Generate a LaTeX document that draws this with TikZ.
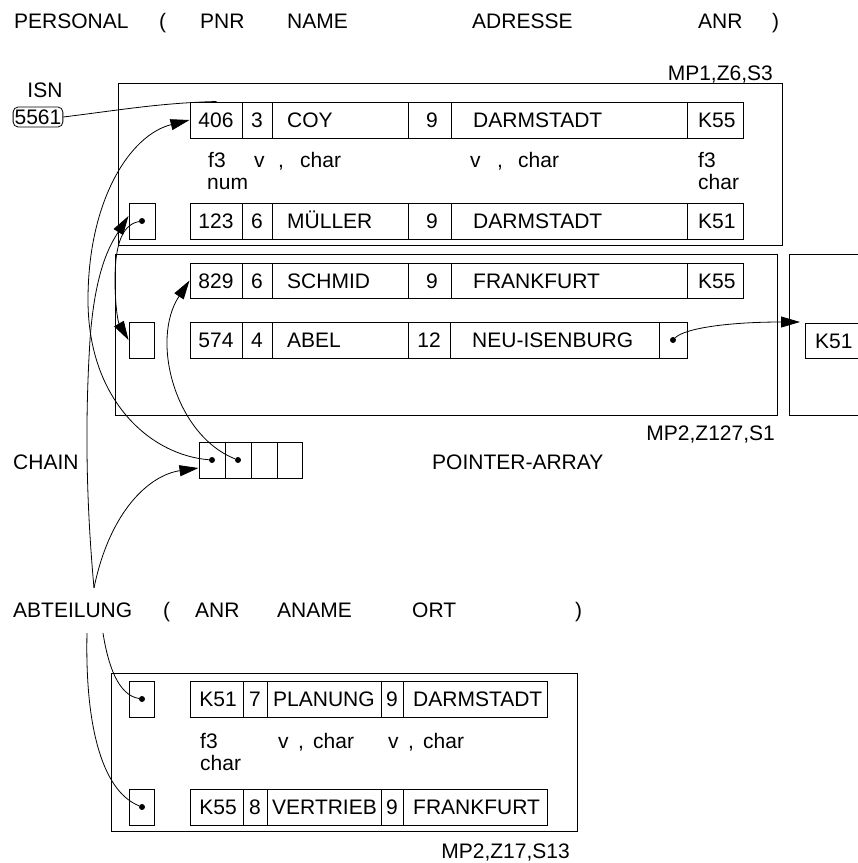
\documentclass[tikz,border=0pt]{standalone}
\usepackage{fontspec}
\setmainfont{Liberation Sans}
\usetikzlibrary{arrows.meta}
\begin{document}
\begin{tikzpicture}[x=1pt,y=-1pt,
  every node/.style={font=\fontsize{21}{25}\selectfont, inner sep=0pt},
  lbl/.style={anchor=base west},
  lblc/.style={anchor=base},
  lble/.style={anchor=base east},
  frame/.style={draw, line width=1pt},
  cellbox/.style={draw, line width=1pt, inner sep=0pt},
  conn/.style={line width=0.8pt},
  arr/.style={line width=0.8pt, -{Triangle[length=19pt,width=11pt]}},
  dotc/.style={circle, fill, minimum size=6pt, inner sep=0pt}
]
\useasboundingbox (0,0) rectangle (858,863);

% ---------- header PERSONAL ----------
\node[lbl] (hPers) at (14,28.5) {PERSONAL};
\node[lbl] (hPo)   at (159,28.5) {(};
\node[lbl] (hPnr)  at (200,28.5) {PNR};
\node[lbl] (hName) at (287,28.5) {NAME};
\node[lbl] (hAdr)  at (472,28.5) {ADRESSE};
\node[lbl] (hAnr)  at (698,28.5) {ANR};
\node[lbl] (hPc)   at (772,28.5) {)};

% ---------- block MP1 ----------
\node[lble] (mp1) at (773,80.5) {MP1,Z6,S3};
\node[lblc] (isnl) at (45,97.5) {ISN};
\node[draw, line width=0.8pt, rounded corners=5pt, inner sep=1.5pt, minimum height=20pt] (isn) at (38,117) {5561};

\draw[frame] (118,83) rectangle (782,245);

% record 406
\node[cellbox, minimum width=553pt, minimum height=36pt] (rec1) at (466.5,120) {};
\foreach \x in {242,272,408,451,687} \draw[frame] (\x,102) -- (\x,138);
\node[lblc] (r1a) at (216,127.5) {406};
\node[lblc] (r1b) at (257,127.5) {3};
\node[lbl]  (r1c) at (287,127.5) {COY};
\node[lblc] (r1d) at (432,127.5) {9};
\node[lbl]  (r1e) at (473,127.5) {DARMSTADT};
\node[lbl]  (r1f) at (698,127.5) {K55};

% format annotations
\node[lbl] (a1) at (208,167) {f3};
\node[lbl] (a2) at (254,167) {v};
\node[lbl] (a3) at (278,167) {,};
\node[lbl] (a4) at (300,167) {char};
\node[lbl] (a5) at (470,167) {v};
\node[lbl] (a6) at (497,167) {,};
\node[lbl] (a7) at (518,167) {char};
\node[lbl] (a8) at (698,167) {f3};
\node[lbl] (a9) at (207,189) {num};
\node[lbl] (a10) at (698,189) {char};

% record 123
\node[cellbox, minimum width=26pt, minimum height=36pt] (p2) at (142,221) {};
\node[dotc] (md) at (142,221) {};
\node[cellbox, minimum width=553pt, minimum height=36pt] (rec2) at (466.5,221) {};
\foreach \x in {242,272,408,451,687} \draw[frame] (\x,203) -- (\x,239);
\node[lblc] (r2a) at (216,228.5) {123};
\node[lblc] (r2b) at (257,228.5) {6};
\node[lbl]  (r2c) at (287,228.5) {MÜLLER};
\node[lblc] (r2d) at (432,228.5) {9};
\node[lbl]  (r2e) at (473,228.5) {DARMSTADT};
\node[lbl]  (r2f) at (698,228.5) {K51};

% ---------- block MP2,Z127 ----------
\draw[frame] (115,254) rectangle (777,415);
\draw[frame] (858,254) -- (789,254) -- (789,415) -- (858,415);

% record 829
\node[cellbox, minimum width=553pt, minimum height=35pt] (rec3) at (466.5,280.5) {};
\foreach \x in {242,272,408,451,687} \draw[frame] (\x,263) -- (\x,298);
\node[lblc] (r3a) at (216,288) {829};
\node[lblc] (r3b) at (257,288) {6};
\node[lbl]  (r3c) at (287,288) {SCHMID};
\node[lblc] (r3d) at (432,288) {9};
\node[lbl]  (r3e) at (473,288) {FRANKFURT};
\node[lbl]  (r3f) at (698,288) {K55};

% record 574
\node[cellbox, minimum width=25pt, minimum height=36pt] (p4) at (141.5,340) {};
\node[cellbox, minimum width=497pt, minimum height=36pt] (rec4) at (438.5,340) {};
\foreach \x in {242,272,408,450,659} \draw[frame] (\x,322) -- (\x,358);
\node[lblc] (r4a) at (216,347.5) {574};
\node[lblc] (r4b) at (257,347.5) {4};
\node[lbl]  (r4c) at (287,347.5) {ABEL};
\node[lblc] (r4d) at (429,347.5) {12};
\node[lbl]  (r4e) at (472,347.5) {NEU-ISENBURG};
\node[dotc] (nd) at (673,340) {};

% K51 in next block
\draw[frame] (858,323) -- (805,323) -- (805,358) -- (858,358);
\node[lbl] (k51) at (815,348) {K51};
\coordinate (k51nw) at (800,322);

\node[lble] (mp2a) at (775,440.5) {MP2,Z127,S1};

% ---------- pointer array ----------
\node[cellbox, minimum width=26pt, minimum height=36pt] (pa1) at (212,460) {};
\node[cellbox, minimum width=26pt, minimum height=36pt] (pa2) at (238,460) {};
\node[cellbox, minimum width=26pt, minimum height=36pt] (pa3) at (264,460) {};
\node[cellbox, minimum width=25pt, minimum height=36pt] (pa4) at (289.5,460) {};
\draw[line width=1.6pt] (pa1.north east) -- (pa1.south east);
\node[dotc] (pd1) at (212,460) {};
\node[dotc] (pd2) at (238,460) {};
\node[lbl] (chain) at (13,469.5) {CHAIN};
\node[lbl] (parr) at (432,469.5) {POINTER-ARRAY};

% ---------- header ABTEILUNG ----------
\node[lbl] (hAbt)  at (13,617.5) {ABTEILUNG};
\node[lbl] (hAo)   at (163,617.5) {(};
\node[lbl] (hAanr) at (195,617.5) {ANR};
\node[lbl] (hAnam) at (277,617.5) {ANAME};
\node[lbl] (hAort) at (412,617.5) {ORT};
\node[lbl] (hAc)   at (575,617.5) {)};
\coordinate (abtop) at (94,588);
\coordinate (abbotA) at (103,633);
\coordinate (abbotB) at (87,633);

% ---------- block MP2,Z17 ----------
\draw[frame] (111,673) rectangle (577,831);

\node[cellbox, minimum width=25pt, minimum height=36pt] (b1) at (141.5,699) {};
\node[dotc] (bd1) at (142,699) {};
\node[cellbox, minimum width=357pt, minimum height=36pt] (rec5) at (368.5,699) {};
\foreach \x in {243,267,381,403} \draw[frame] (\x,681) -- (\x,717);
\node[lblc] (r5a) at (218,706.5) {K51};
\node[lblc] (r5b) at (255,706.5) {7};
\node[lbl]  (r5c) at (273,706.5) {PLANUNG};
\node[lblc] (r5d) at (392,706.5) {9};
\node[lbl]  (r5e) at (413,706.5) {DARMSTADT};

\node[lbl] (c1) at (200,748) {f3};
\node[lbl] (c2) at (278,748) {v};
\node[lbl] (c3) at (298,748) {,};
\node[lbl] (c4) at (313,748) {char};
\node[lbl] (c5) at (388,748) {v};
\node[lbl] (c6) at (408,748) {,};
\node[lbl] (c7) at (423,748) {char};
\node[lbl] (c8) at (200,770) {char};

\node[cellbox, minimum width=25pt, minimum height=36pt] (b2) at (141.5,807) {};
\node[dotc] (bd2) at (142,807) {};
\node[cellbox, minimum width=357pt, minimum height=36pt] (rec6) at (368.5,807) {};
\foreach \x in {243,267,381,403} \draw[frame] (\x,789) -- (\x,825);
\node[lblc] (r6a) at (218,814.5) {K55};
\node[lblc] (r6b) at (255,814.5) {8};
\node[lbl]  (r6c) at (272,814.5) {VERTRIEB};
\node[lblc] (r6d) at (392,814.5) {9};
\node[lbl]  (r6e) at (413,814.5) {FRANKFURT};

\node[lble] (mp2b) at (570,858) {MP2,Z17,S13};

% ---------- connectors ----------
\draw[conn] (isn.east) .. controls (120,110) and (160,103) .. ([xshift=27pt]rec1.north west);
\draw[arr] (pd1) .. controls (150,455) and (88,400) .. (88,300) .. controls (88,200) and (130,135) .. (rec1.west);
\draw[arr] (pd2) .. controls (175,435) and (150,340) .. (rec3.west);
\draw[arr] (md) .. controls (120,225) and (115,250) .. (115,280) .. controls (115,305) and (118,322) .. (p4.west);
\draw[arr] (abtop) .. controls (86,500) and (85,420) .. (90,340) .. controls (95,270) and (110,245) .. ([yshift=5pt]p2.west);
\draw[arr] (abtop) .. controls (110,510) and (150,475) .. ([yshift=-8pt]pa1.west);
\draw[conn] (abbotA) .. controls (108,665) and (118,695) .. (bd1);
\draw[conn] (abbotB) .. controls (85,720) and (100,790) .. (bd2);
\draw[arr] (nd) .. controls (685,328) and (730,322) .. (k51nw);
\end{tikzpicture}
\end{document}
